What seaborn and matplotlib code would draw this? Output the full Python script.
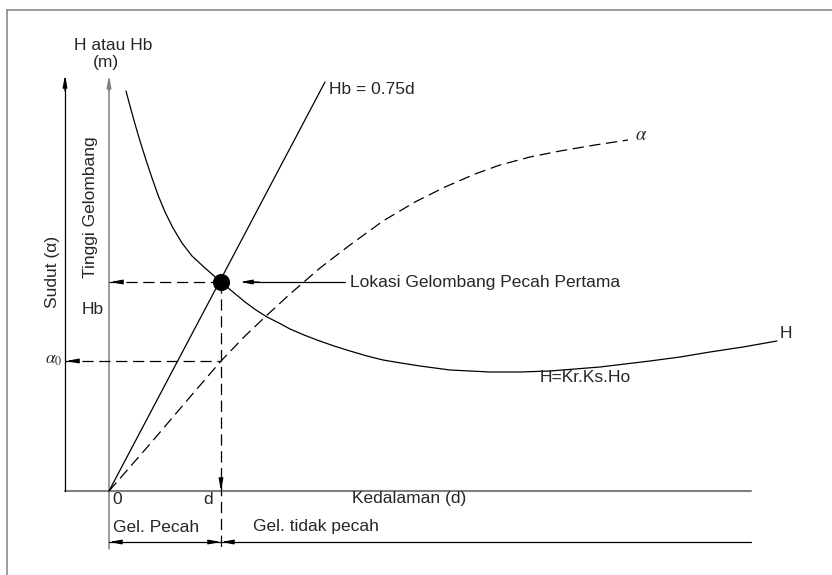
import numpy as np
import pandas as pd
import seaborn as sns
import matplotlib.pyplot as plt

# diagram units: x = depth to the right of the H axis, y = height above the depth axis
h_x = [17, 21, 26, 31, 37, 43, 49, 56, 64, 73, 83, 96, 112, 124, 136, 147, 158, 170, 181, 195,
       208, 225, 241, 258, 274, 292, 311, 326, 341, 361, 381, 411, 441, 466, 491, 516, 541,
       571, 601, 634, 668]
h_y = [400, 385, 367, 350, 331, 313, 296, 279, 263, 248, 235, 223, 209, 199, 189, 181, 174, 168,
       162, 156, 151, 145, 140, 135, 131, 128, 125, 123, 121, 120, 119, 119, 120, 122, 124, 127, 130,
       134, 139, 144, 150]

alpha_x = [0, 41, 81, 112, 136, 156, 181, 211, 241, 274, 306, 336, 366, 391, 421, 451, 486, 519]
alpha_y = [0, 47, 94, 130, 155, 174, 197, 223, 246, 270, 289, 304, 317, 326, 334, 340, 346, 351]

hb_x = [0, 216]
hb_y = [0, 409]

d_break = 112      # depth where the wave first breaks
hb_break = 209     # breaking height Hb
alpha0 = 130       # angle at breaking

sns.set_style("white")
plt.rcParams['font.family'] = ['Liberation Sans', 'DejaVu Sans']
plt.rcParams['mathtext.fontset'] = 'stix'

fig = plt.figure(figsize=(8.32, 5.75), dpi=100)
ax = fig.add_axes([0, 0, 1, 1])
ax.set_xlim(-109, 723)
ax.set_ylim(-84, 491)
ax.axis('off')

grey = '#808080'
dash = (9, 4.5)

# outer frame (top and left only)
ax.plot([-102, 723], [481, 481], color=grey, lw=1.1)
ax.plot([-102, -102], [481, -84], color=grey, lw=1.1)

# axes
ax.plot([-44, 642], [0, 0], color=grey, lw=1.5)
ax.plot([0, 0], [-58, 410], color=grey, lw=1.1)
ax.plot([-44, -44], [0, 410], color='black', lw=0.9)

def arrow(x0, y0, x1, y1, col='black', lw=0.9):
    ax.annotate('', xy=(x1, y1), xytext=(x0, y0),
                arrowprops=dict(arrowstyle='-|>,head_length=0.7,head_width=0.13',
                                color=col, lw=lw, shrinkA=0, shrinkB=0))

arrow(0, 400, 0, 416, grey, 1.1)
arrow(-44, 400, -44, 416)

# curves
dfh = pd.DataFrame({'d': h_x, 'H': h_y})
sns.lineplot(data=dfh, x='d', y='H', color='black', lw=0.9, estimator=None, ax=ax)
dfa = pd.DataFrame({'d': alpha_x, 'a': alpha_y})
sns.lineplot(data=dfa, x='d', y='a', color='black', lw=0.9, estimator=None,
             dashes=False, ax=ax).lines[-1].set_dashes(dash)
dfb = pd.DataFrame({'d': hb_x, 'Hb': hb_y})
sns.lineplot(data=dfb, x='d', y='Hb', color='black', lw=0.9, estimator=None, ax=ax)

# breaking point and projections
ax.plot([0, d_break], [hb_break, hb_break], color='black', lw=0.9, dashes=dash)
ax.plot([-44, d_break], [alpha0, alpha0], color='black', lw=0.9, dashes=dash)
ax.plot([d_break, d_break], [hb_break, -58], color='black', lw=0.9, dashes=dash)
arrow(12, hb_break, 1, hb_break)
arrow(-32, alpha0, -43, alpha0)
arrow(d_break, 12, d_break, 0)
sns.scatterplot(x=[d_break], y=[hb_break], s=130, color='black', edgecolor='black', ax=ax, zorder=5)

# Lokasi arrow
ax.plot([236, 140], [209, 209], color='black', lw=0.9)
arrow(150, 209, 131, 209)

# dimension line below
ax.plot([0, 642], [-51, -51], color='black', lw=0.9)
arrow(10, -51, 0, -51)
arrow(100, -51, d_break, -51)
arrow(124, -51, d_break, -51)

fs = 12.5
ax.text(4, 445, 'H atau Hb', fontsize=fs, ha='center', va='center')
ax.text(-3, 428, '(m)', fontsize=fs, ha='center', va='center')
ax.text(-19, 284, 'Tinggi Gelombang', fontsize=fs, rotation=90, ha='center', va='center')
ax.text(-56, 219, 'Sudut (\u03b1)', fontsize=fs, rotation=90, ha='center', va='center')
ax.text(-16, 182, 'Hb', fontsize=fs, ha='center', va='center')
ax.text(-55, 131, r'$\alpha_{0}$', fontsize=fs, ha='center', va='center')
ax.text(526, 355, r'$\alpha$', fontsize=fs + 1, ha='left', va='center')
ax.text(220, 402, 'Hb = 0.75d', fontsize=fs, ha='left', va='center')
ax.text(241, 209, 'Lokasi Gelombang Pecah Pertama', fontsize=fs, ha='left', va='center')
ax.text(431, 114, 'H=Kr.Ks.Ho', fontsize=fs, ha='left', va='center')
ax.text(671, 158, 'H', fontsize=fs, ha='left', va='center')
ax.text(3, -8, '0', fontsize=fs, ha='left', va='center')
ax.text(99, -8, 'd', fontsize=fs, ha='center', va='center')
ax.text(243, -8, 'Kedalaman (d)', fontsize=fs, ha='left', va='center')
ax.text(4, -36, 'Gel. Pecah', fontsize=fs, ha='left', va='center')
ax.text(144, -36, 'Gel. tidak pecah', fontsize=fs, ha='left', va='center')

fig.savefig('out.png', dpi=100)
